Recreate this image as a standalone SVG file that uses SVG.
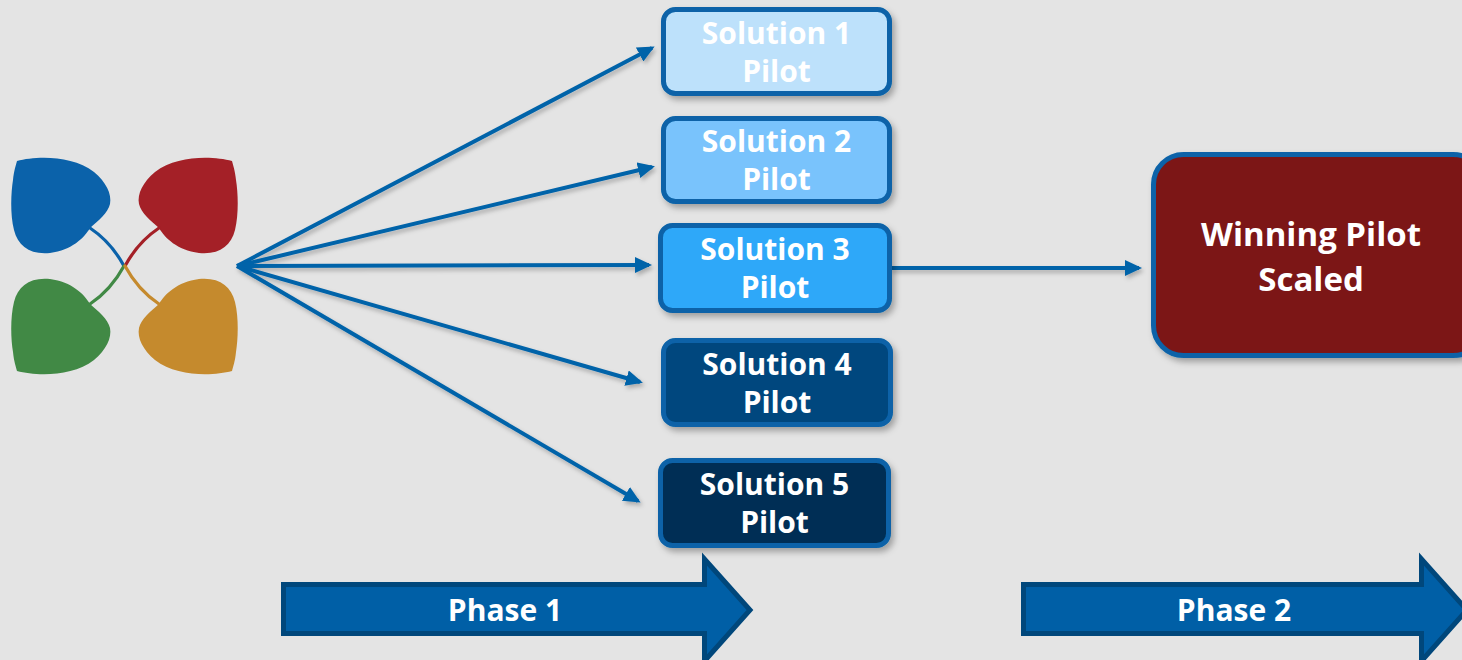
<svg xmlns="http://www.w3.org/2000/svg" width="1462" height="660" viewBox="0 0 1462 660">
  <defs>
    <style>
      .lbl { font-family: 'Open Sans', 'Noto Sans', 'Liberation Sans', sans-serif; font-weight: 700; fill: #ffffff; text-anchor: middle; }
      .box { stroke: #0862a8; stroke-width: 5; filter: url(#sh); }
      .conn { stroke: #0563a9; stroke-width: 4; fill: none; marker-end: url(#ah); }
      .phase { fill: #005fa6; stroke: #00477b; stroke-width: 5; stroke-linejoin: miter; }
      .stem { fill: none; stroke-width: 3.2; stroke-linecap: round; }
    </style>
    <filter id="sh" x="-10%" y="-10%" width="130%" height="140%">
      <feDropShadow dx="3" dy="4" stdDeviation="3" flood-color="#000" flood-opacity="0.3"/>
    </filter>
    <filter id="lsh" x="-10%" y="-50%" width="130%" height="200%">
      <feDropShadow dx="2" dy="3" stdDeviation="2" flood-color="#000" flood-opacity="0.25"/>
    </filter>
    <marker id="ah" markerUnits="userSpaceOnUse" markerWidth="18" markerHeight="16" refX="14" refY="8" orient="auto">
      <path d="M0,0 L17,8 L0,16 Z" fill="#0563a9"/>
    </marker>
    <path id="leaf" d="M17,161 C36,156 72,155 94,172 C106,182 112,194 110,204 C108,213 98,221 90,228 C84,238 72,250 50,253 C30,255 18,246 14,230 C10,214 11,192 13,180 C14,170 16,165 17,161 Z"/>
    <path id="stem" d="M90,228 Q111,242 124,266"/>
  </defs>

  <rect x="0" y="0" width="1462" height="660" fill="#e4e4e4"/>

  <g id="logo">
    <g fill="#0b62aa" stroke="#0b62aa"><use href="#leaf" stroke="none"/><use href="#stem" class="stem"/></g>
    <g fill="#a42027" stroke="#a42027" transform="matrix(-1,0,0,1,249,0)"><use href="#leaf" stroke="none"/><use href="#stem" class="stem"/></g>
    <g fill="#418945" stroke="#418945" transform="matrix(1,0,0,-1,0,532)"><use href="#leaf" stroke="none"/><use href="#stem" class="stem"/></g>
    <g fill="#c58a2d" stroke="#c58a2d" transform="matrix(-1,0,0,-1,249,532)"><use href="#leaf" stroke="none"/><use href="#stem" class="stem"/></g>
  </g>

  <g id="connectors" filter="url(#lsh)">
    <line class="conn" x1="237" y1="266" x2="652" y2="48"/>
    <line class="conn" x1="237" y1="266" x2="652" y2="167"/>
    <line class="conn" x1="237" y1="266" x2="649" y2="265"/>
    <line class="conn" x1="237" y1="266" x2="640" y2="382"/>
    <line class="conn" x1="237" y1="266" x2="638" y2="501"/>
    <line class="conn" x1="890" y1="268" x2="1139" y2="268"/>
  </g>

  <g id="sol1">
    <rect class="box" x="663.5" y="9.5" width="226" height="84" rx="12" fill="#bde1fb"/>
    <text class="lbl" x="776.5" y="44" font-size="30">Solution 1</text>
    <text class="lbl" x="776.5" y="82" font-size="30">Pilot</text>
  </g>
  <g id="sol2">
    <rect class="box" x="663.5" y="118.5" width="226" height="83" rx="12" fill="#79c3fc"/>
    <text class="lbl" x="776.5" y="152" font-size="30">Solution 2</text>
    <text class="lbl" x="776.5" y="190" font-size="30">Pilot</text>
  </g>
  <g id="sol3">
    <rect class="box" x="660.5" y="225.5" width="229" height="85" rx="12" fill="#2fa8f9"/>
    <text class="lbl" x="775" y="260" font-size="30">Solution 3</text>
    <text class="lbl" x="775" y="298" font-size="30">Pilot</text>
  </g>
  <g id="sol4">
    <rect class="box" x="663.5" y="340.5" width="227" height="84" rx="12" fill="#00467e"/>
    <text class="lbl" x="777" y="375" font-size="30">Solution 4</text>
    <text class="lbl" x="777" y="413" font-size="30">Pilot</text>
  </g>
  <g id="sol5">
    <rect class="box" x="660.5" y="460.5" width="228" height="85" rx="12" fill="#002f55"/>
    <text class="lbl" x="774.5" y="495" font-size="30">Solution 5</text>
    <text class="lbl" x="774.5" y="533" font-size="30">Pilot</text>
  </g>

  <g id="winning">
    <rect class="box" x="1153.5" y="154.5" width="330" height="201" rx="30" fill="#7b1719"/>
    <text class="lbl" x="1311" y="246" font-size="33">Winning Pilot</text>
    <text class="lbl" x="1311" y="291" font-size="33">Scaled</text>
  </g>

  <g id="phase1">
    <polygon class="phase" points="283.5,584.5 704.5,584.5 704.5,559 750,610 704.5,661 704.5,633.5 283.5,633.5"/>
    <text class="lbl" x="505" y="621" font-size="30">Phase 1</text>
  </g>
  <g id="phase2">
    <polygon class="phase" points="1023.5,584.5 1421.5,584.5 1421.5,559 1467,610 1421.5,661 1421.5,633.5 1023.5,633.5"/>
    <text class="lbl" x="1234" y="621" font-size="30">Phase 2</text>
  </g>
</svg>
